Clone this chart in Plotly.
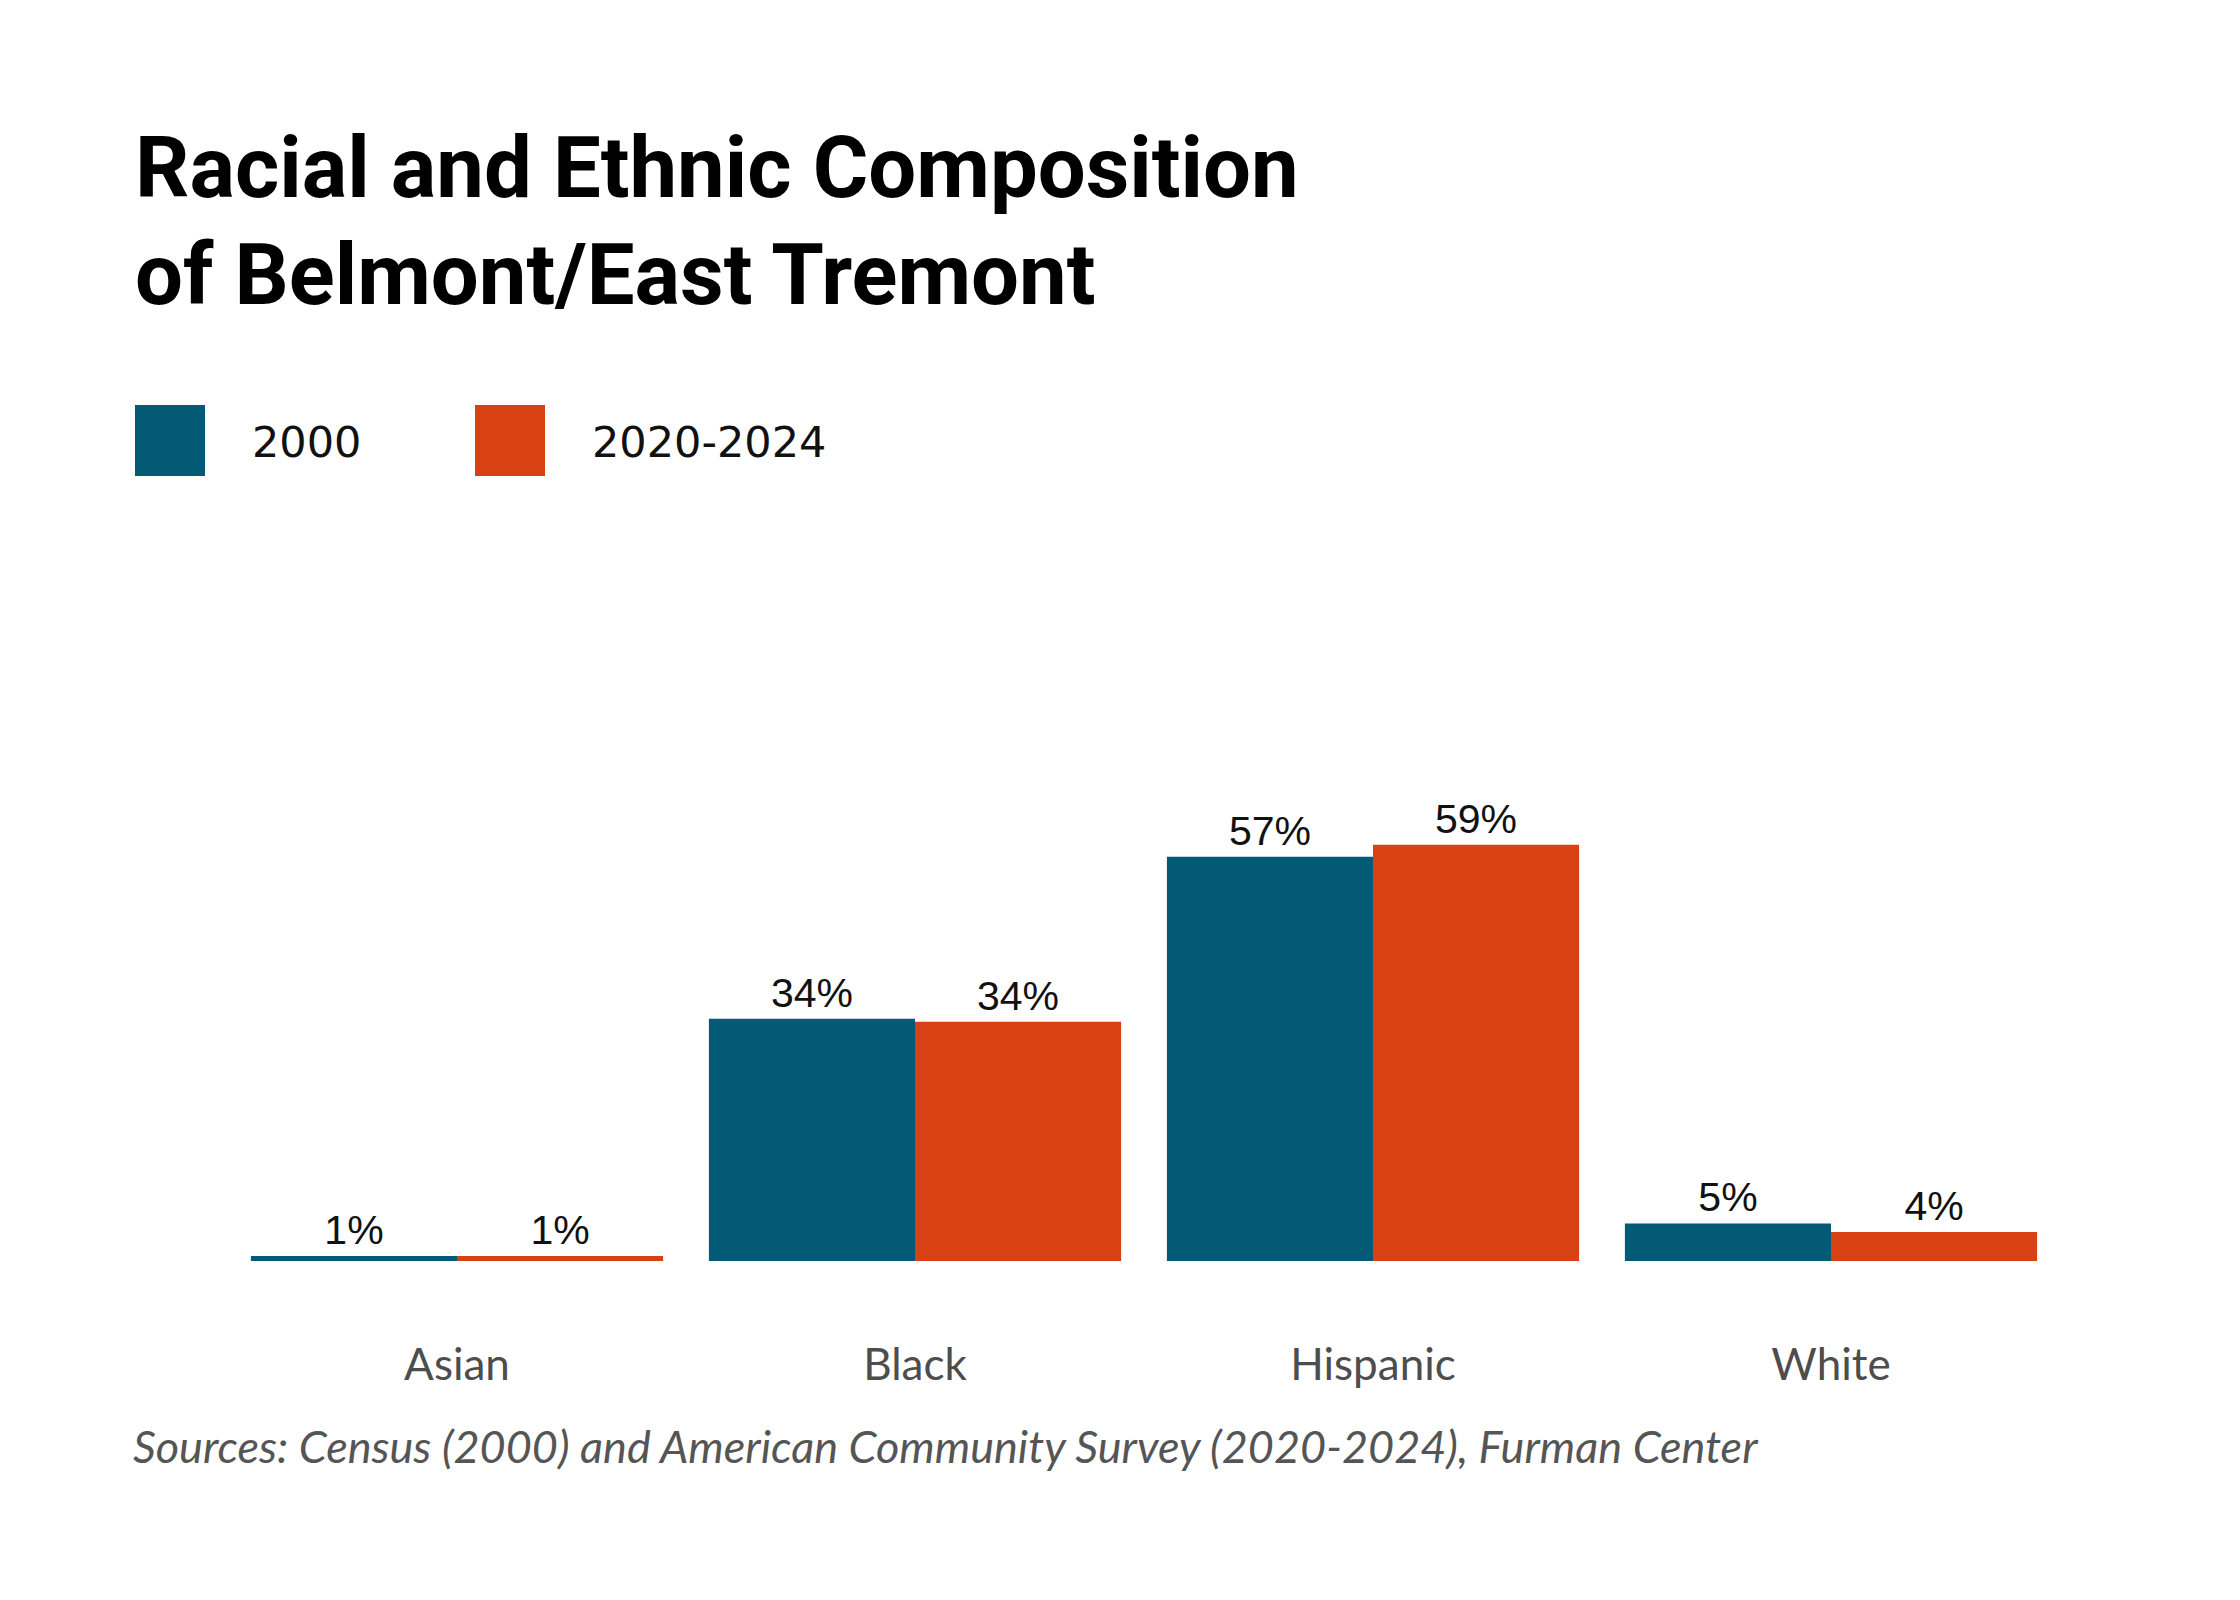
import plotly.graph_objects as go

# Data
groups = ["Asian", "Black", "Hispanic", "White"]
share_2000 = [0.7, 34.2, 57.1, 5.3]
share_2020 = [0.7, 33.8, 58.8, 4.1]
series_names = ["2000", "2020-2024"]
colors = ["#025a75", "#d84114"]

W, H = 2240, 1600
L, R, T, B = 220, 188, 545, 347


def px_x(x):
    # pixel -> paper x
    return (x - L) / (W - L - R)


def px_y(y):
    # pixel -> paper y
    return 1 - (y - T) / (H - T - B)


fig = go.Figure()
for name, vals, col in zip(series_names, [share_2000, share_2020], colors):
    fig.add_trace(go.Bar(x=groups, y=vals, name=name,
                         marker=dict(color=col, line=dict(width=0)),
                         texttemplate="%{y:.0f}%",
                         textposition="outside",
                         textfont=dict(family="Liberation Sans, Arial",
                                       size=41, color="#111111"),
                         cliponaxis=False))

# Title
fig.add_annotation(text="<b>Racial and Ethnic Composition</b>",
                   x=px_x(125), y=px_y(160), xref="paper", yref="paper",
                   xanchor="left", yanchor="middle", showarrow=False,
                   font=dict(family="Roboto", size=85, color="#000000"))
fig.add_annotation(text="<b>of Belmont/East Tremont</b>",
                   x=px_x(125), y=px_y(267), xref="paper", yref="paper",
                   xanchor="left", yanchor="middle", showarrow=False,
                   font=dict(family="Roboto", size=85, color="#000000"))

# Legend drawn by hand (big square swatches)
for name, col, x0, tx in zip(series_names, colors, [127, 467], [242, 582]):
    fig.add_shape(type="rect", xref="paper", yref="paper",
                  x0=px_x(x0), x1=px_x(x0 + 70),
                  y0=px_y(397), y1=px_y(468),
                  fillcolor=col, line=dict(width=0))
    fig.add_annotation(text=name, x=px_x(tx), y=px_y(434),
                       xref="paper", yref="paper",
                       xanchor="left", yanchor="middle", showarrow=False,
                       font=dict(family="DejaVu Sans", size=43, color="#111111"))

# Source note
fig.add_annotation(text="<i>Sources: Census (2000) and American Community Survey (2020-2024), Furman Center</i>",
                   x=px_x(123), y=px_y(1438), xref="paper", yref="paper",
                   xanchor="left", yanchor="middle", showarrow=False,
                   font=dict(family="Lato", size=45, color="#555555"))

fig.update_layout(
    width=W, height=H,
    margin=dict(l=L, r=R, t=T, b=B),
    paper_bgcolor="white", plot_bgcolor="white",
    showlegend=False,
    barmode="group", bargap=0.1, bargroupgap=0,
    xaxis=dict(showline=False, showgrid=False, ticks="",
               tickfont=dict(family="Lato", size=44, color="#4d4d4d"),
               ticklabelstandoff=74),
    yaxis=dict(visible=False, range=[0, 100]),
)

fig.write_html("out.html")
